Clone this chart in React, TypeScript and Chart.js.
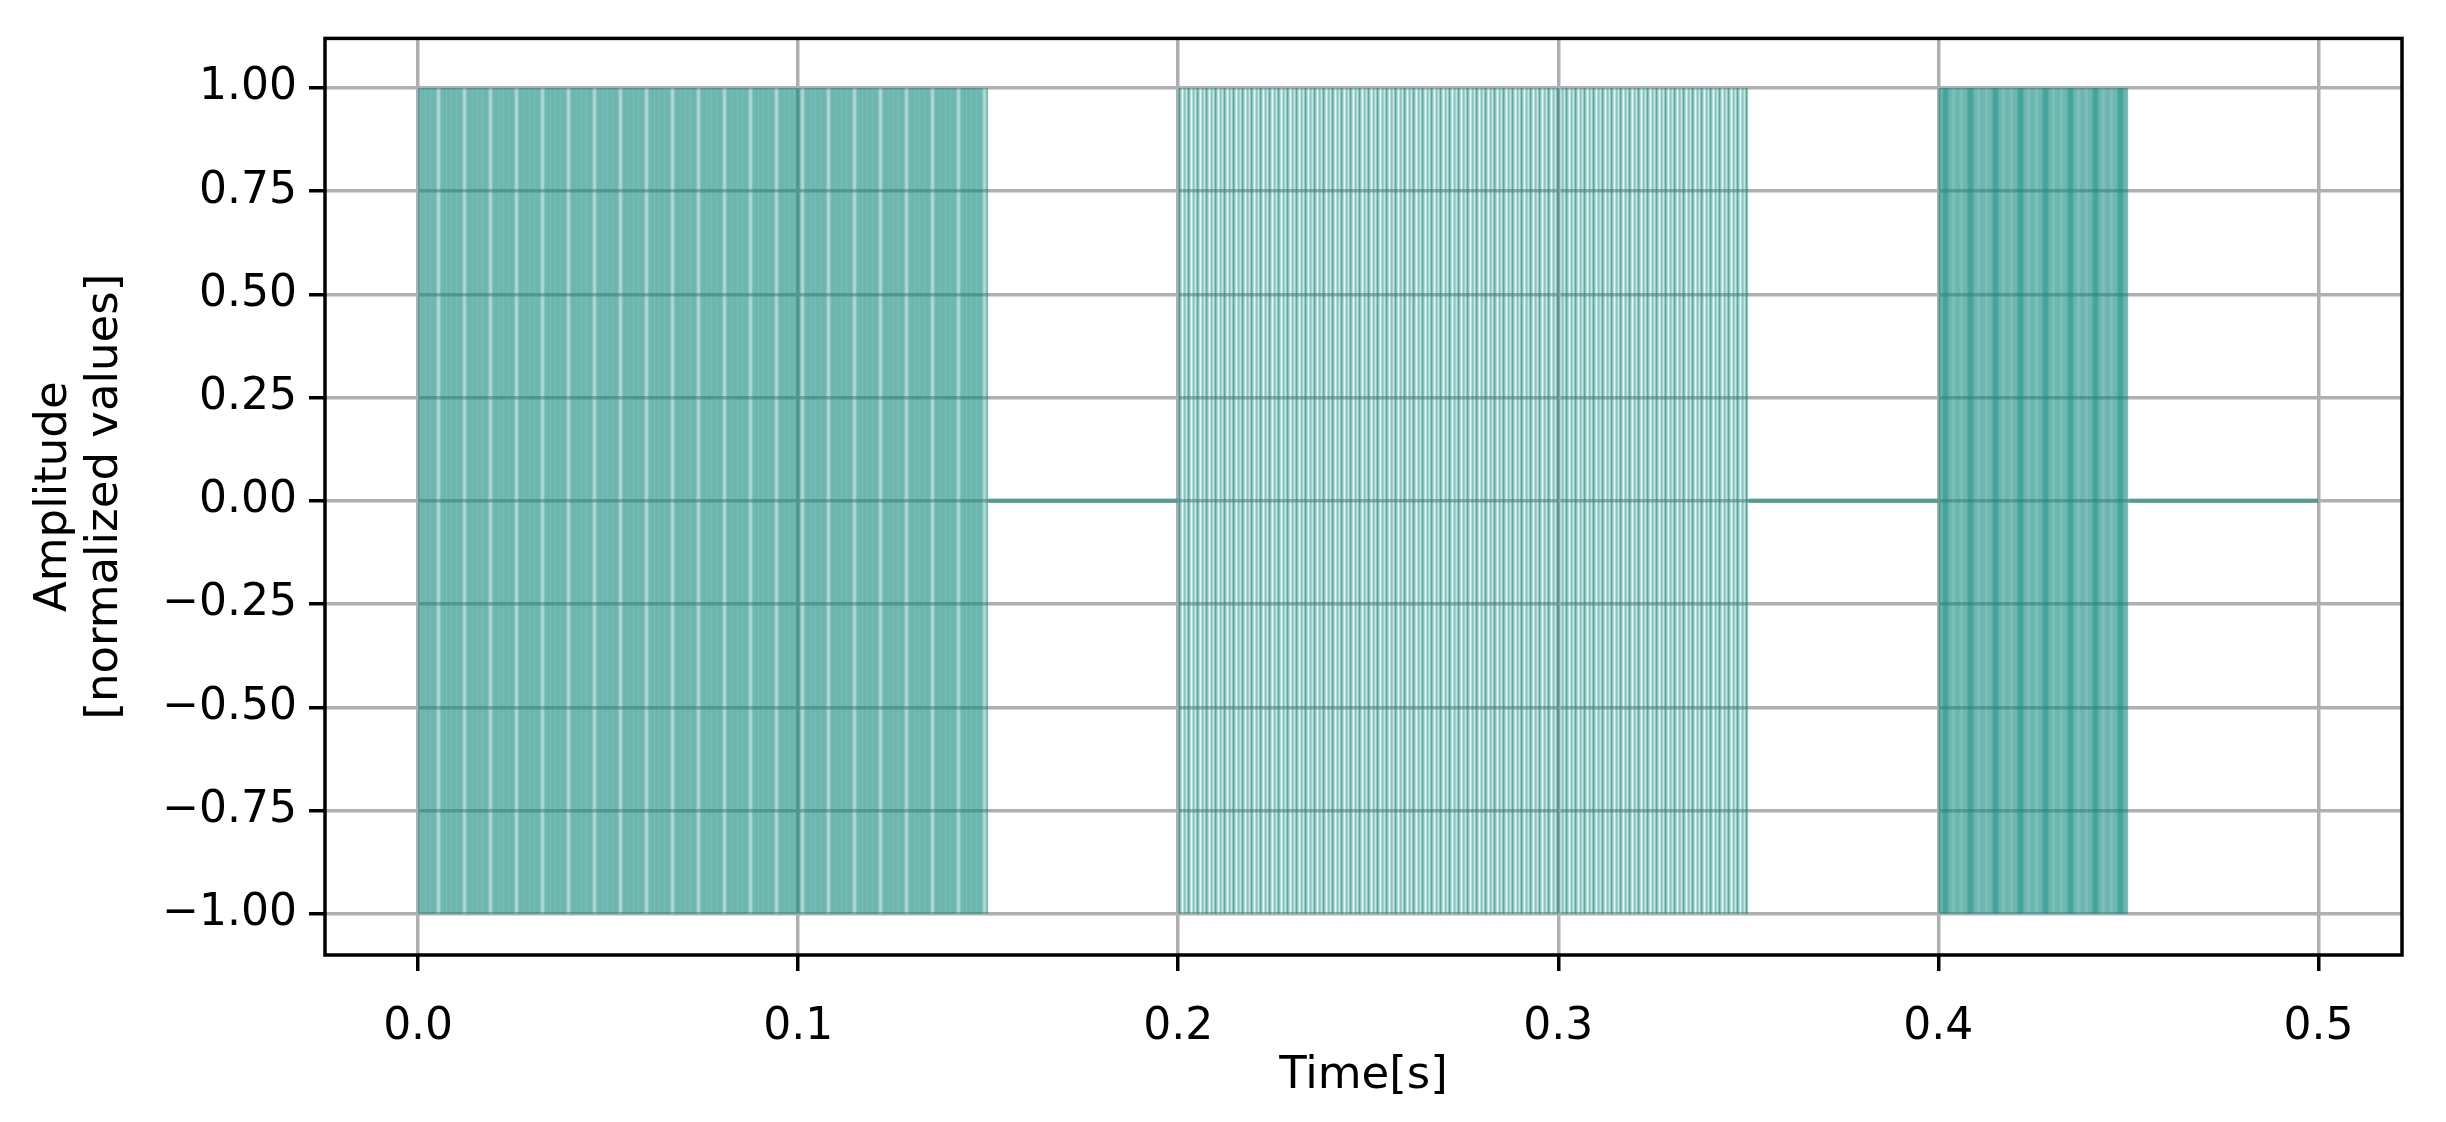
import { useEffect, useRef } from 'react';
import { Chart, registerables } from 'chart.js';

Chart.register(...registerables);

// ---- data ----
const burstStarts = [0.0, 0.2, 0.4];
const burstEnds = [0.15, 0.35, 0.45];
const burstPeaks = [1, 1, 1];
const burstTroughs = [-1, -1, -1];
const signalEnd = 0.5;
const restLevel = 0;

const xTickValues = [0, 0.1, 0.2, 0.3, 0.4, 0.5];
const xTickLabels = ['0.0', '0.1', '0.2', '0.3', '0.4', '0.5'];
const yTickValues = [-1, -0.75, -0.5, -0.25, 0, 0.25, 0.5, 0.75, 1];
const yTickLabels = ['−1.00', '−0.75', '−0.50', '−0.25', '0.00', '0.25', '0.50', '0.75', '1.00'];
const xTitle = 'Time[s]';
const yTitle = ['Amplitude', '[normalized values]'];

// ---- style ----
const W = 2446;
const H = 1122;
const TEAL = [15, 137, 125];
const lineColor = `rgba(${TEAL[0]},${TEAL[1]},${TEAL[2]},0.55)`;
const FONT = "'DejaVu Sans', sans-serif";
// per-burst stripe textures (alpha per pixel column)
const burstTextures = [
  [0.6, 0.6, 0.62, 0.6, 0.58, 0.6, 0.62, 0.6, 0.6, 0.58, 0.6, 0.62, 0.6, 0.6, 0.58, 0.6, 0.6, 0.62, 0.6, 0.6, 0.5, 0.38, 0.32, 0.38, 0.5, 0.6],
  [0.7, 0.5, 0.3, 0.08, 0.3, 0.5, 0.38, 0.22, 0.45],
  [0.6, 0.6, 0.56, 0.52, 0.56, 0.6, 0.6, 0.62, 0.6, 0.6, 0.56, 0.52, 0.56, 0.6, 0.6, 0.6, 0.62, 0.68, 0.75, 0.78, 0.78, 0.78, 0.75, 0.68, 0.62],
];

function makePattern(alphas: number[]): CanvasPattern | string {
  const c = document.createElement('canvas');
  c.width = alphas.length;
  c.height = 1;
  const ctx = c.getContext('2d');
  if (!ctx) return lineColor;
  alphas.forEach((a, i) => {
    ctx.fillStyle = `rgba(${TEAL[0]},${TEAL[1]},${TEAL[2]},${a})`;
    ctx.fillRect(i, 0, 1, 1);
  });
  const p = ctx.createPattern(c, 'repeat');
  return p || lineColor;
}

const framePlugin = {
  id: 'frame',
  afterDatasetsDraw(chart: any) {
    const { ctx, chartArea } = chart;
    ctx.save();
    ctx.strokeStyle = '#000';
    ctx.lineWidth = 3.5;
    ctx.strokeRect(chartArea.left, chartArea.top, chartArea.right - chartArea.left, chartArea.bottom - chartArea.top);
    ctx.restore();
  },
};

export default function App() {
  const ref = useRef<HTMLCanvasElement | null>(null);

  useEffect(() => {
    if (!ref.current) return;
    const datasets: any[] = [];
    burstStarts.forEach((s, i) => {
      datasets.push({
        data: [
          { x: s, y: burstPeaks[i] },
          { x: burstEnds[i], y: burstPeaks[i] },
        ],
        borderWidth: 0,
        borderColor: 'rgba(0,0,0,0)',
        backgroundColor: makePattern(burstTextures[i % burstTextures.length]),
        fill: { value: burstTroughs[i] },
        pointRadius: 0,
      });
      const gapEnd = i + 1 < burstStarts.length ? burstStarts[i + 1] : signalEnd;
      datasets.push({
        data: [
          { x: burstEnds[i], y: restLevel },
          { x: gapEnd, y: restLevel },
        ],
        borderWidth: 4.5,
        borderColor: lineColor,
        fill: false,
        pointRadius: 0,
      });
    });

    const chart = new Chart(ref.current, {
      type: 'line',
      data: { datasets },
      plugins: [framePlugin],
      options: {
        animation: false,
        responsive: false,
        devicePixelRatio: 1,
        layout: { padding: { top: 28, right: 44, left: 0, bottom: 0 } },
        plugins: { legend: { display: false }, tooltip: { enabled: false } },
        scales: {
          x: {
            type: 'linear',
            min: -0.0245,
            max: 0.522,
            afterBuildTicks: (scale: any) => {
              scale.ticks = xTickValues.map((v) => ({ value: v }));
            },
            afterFit: (scale: any) => {
              scale.height = H - 955;
            },
            border: { display: false },
            grid: {
              color: '#b0b0b0',
              lineWidth: 3.5,
              drawTicks: true,
              tickLength: 16,
              tickWidth: 3.5,
              tickColor: '#000',
            },
            ticks: {
              autoSkip: false,
              maxRotation: 0,
              includeBounds: false,
              padding: 30,
              color: '#000',
              font: { family: FONT, size: 44 },
              callback: (_v: any, idx: number) => xTickLabels[idx],
            },
            title: {
              display: true,
              text: xTitle,
              color: '#000',
              font: { family: FONT, size: 45 },
              padding: { top: 0, bottom: 19 },
            },
          },
          y: {
            type: 'linear',
            min: -1.1,
            max: 1.12,
            afterBuildTicks: (scale: any) => {
              scale.ticks = yTickValues.map((v) => ({ value: v }));
            },
            afterFit: (scale: any) => {
              scale.width = 325;
            },
            border: { display: false },
            grid: {
              color: '#b0b0b0',
              lineWidth: 3.5,
              drawTicks: true,
              tickLength: 16,
              tickWidth: 3.5,
              tickColor: '#000',
            },
            ticks: {
              autoSkip: false,
              includeBounds: false,
              padding: 12,
              color: '#000',
              font: { family: FONT, size: 44 },
              callback: (_v: any, idx: number) => yTickLabels[idx],
            },
            title: {
              display: true,
              text: yTitle,
              color: '#000',
              font: { family: FONT, size: 45, lineHeight: 1.13 },
              padding: { top: 29, bottom: 0 },
            },
          },
        },
      } as any,
    });
    return () => chart.destroy();
  }, []);

  return (
    <div style={{ position: 'absolute', left: 0, top: 0, width: W, height: H, background: '#fff' }}>
      <canvas ref={ref} width={W} height={H} style={{ display: 'block', width: W, height: H }} />
    </div>
  );
}
